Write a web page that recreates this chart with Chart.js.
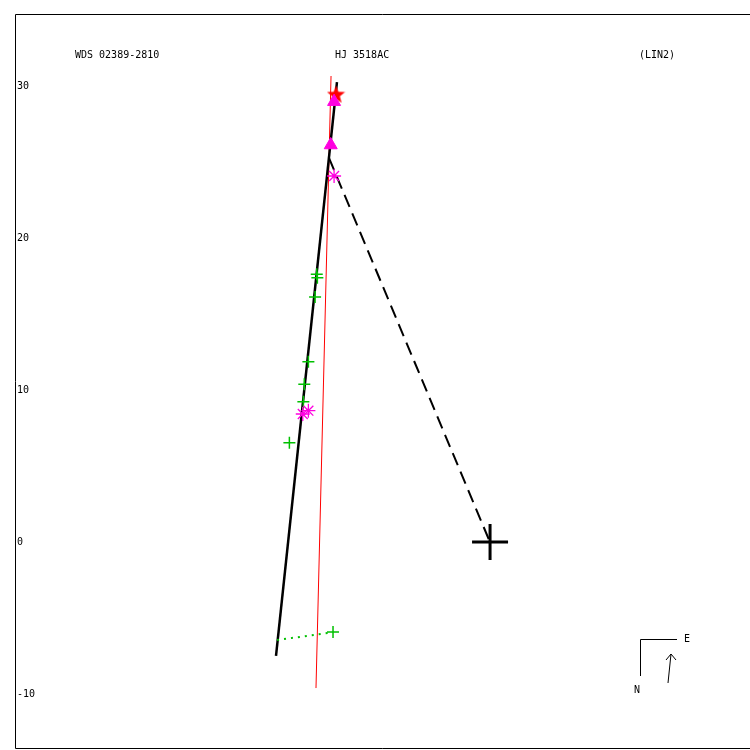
<!DOCTYPE html>
<html>
<head>
<meta charset="utf-8">
<style>
  html, body { margin: 0; padding: 0; background: #fff; }
  canvas { display: block; }
</style>
<script src="https://cdn.jsdelivr.net/npm/chart.js@4/dist/chart.umd.min.js"></script>
</head>
<body>
<canvas id="orbit" width="750" height="750"></canvas>
<script>
// header texts
const titleLeft = 'WDS 02389-2810';
const titleMid = 'HJ 3518AC';
const titleRight = '(LIN2)';

// y tick labels (arcsec)
const yTicks = [-10, 0, 10, 20, 30];

// linear fit path (red) and motion line (black)
const fitX = [-10.46, -11.45];
const fitY = [30.66, -9.61];
const motionX = [-10.07, -14.08];
const motionY = [30.26, -7.50];

// dashed line primary -> last point
const sepX = [-10.59, -0.05];
const sepY = [25.26, 0.1];

// residual (green dotted)
const resX = [-14.01, -10.66];
const resY = [-6.45, -5.99];

// observations
const greenX = [-11.40, -11.36, -11.51, -11.95, -12.22, -12.28, -13.20, -10.33];
const greenY = [17.61, 17.39, 16.12, 11.86, 10.38, 9.23, 6.53, -5.92];
const asterX = [-12.32, -11.95, -10.26];
const asterY = [8.42, 8.64, 24.08];
const triX = [-10.26, -10.48];
const triY = [28.97, 26.12];
const starX = [-10.13];
const starY = [29.41];
const primaryX = [0];
const primaryY = [0];

const pts = (xs, ys) => xs.map((x, i) => ({ x: x, y: ys[i] }));

const GREEN = '#00c000';
const MAGENTA = '#ff00e0';

// filled 5 point star for the red marker
function makeStar(size, color) {
    const c = document.createElement('canvas');
    c.width = size; c.height = size;
    const g = c.getContext('2d');
    const cx = size / 2, cy = size / 2, ro = size / 2, ri = ro * 0.42;
    g.beginPath();
    for (let i = 0; i < 10; i++) {
        const r = i % 2 ? ri : ro;
        const a = -Math.PI / 2 + i * Math.PI / 5;
        g.lineTo(cx + r * Math.cos(a), cy + r * Math.sin(a));
    }
    g.closePath();
    g.fillStyle = color;
    g.fill();
    return c;
}

const framePlugin = {
    id: 'frame',
    afterDraw(chart) {
        const ctx = chart.ctx;
        const a = chart.chartArea;
        ctx.save();
        ctx.strokeStyle = '#000';
        ctx.lineWidth = 1;
        ctx.beginPath();
        ctx.moveTo(750, a.top + 0.5);
        ctx.lineTo(a.left + 0.5, a.top + 0.5);
        ctx.lineTo(a.left + 0.5, a.bottom - 0.5);
        ctx.lineTo(750, a.bottom - 0.5);
        ctx.stroke();

        ctx.fillStyle = '#000';
        ctx.font = '10px "DejaVu Sans Mono"';
        ctx.textBaseline = 'alphabetic';
        ctx.textAlign = 'left';
        ctx.fillText(titleLeft, 75, 58);
        ctx.fillText(titleMid, 335, 58);
        ctx.fillText(titleRight, 639, 58);

        // compass
        ctx.beginPath();
        ctx.moveTo(640.5, 676);
        ctx.lineTo(640.5, 639.5);
        ctx.lineTo(677, 639.5);
        ctx.moveTo(668, 683);
        ctx.lineTo(671, 654);
        ctx.moveTo(666, 660);
        ctx.lineTo(671, 654);
        ctx.lineTo(676, 660);
        ctx.stroke();
        ctx.textBaseline = 'middle';
        ctx.fillText('E', 684, 639);
        ctx.textAlign = 'center';
        ctx.fillText('N', 637, 690);
        ctx.restore();
    }
};

new Chart(document.getElementById('orbit'), {
    type: 'scatter',
    data: {
        datasets: [
            {
                data: pts(triX, triY), pointStyle: 'triangle', pointRadius: 7.5,
                backgroundColor: MAGENTA, borderColor: MAGENTA, borderWidth: 1
            },
            {
                data: pts(starX, starY), pointStyle: makeStar(19, '#ff0000'), pointRadius: 9
            },
            {
                data: pts(asterX, asterY), pointStyle: 'star', pointRadius: 7,
                borderColor: MAGENTA, borderWidth: 1.3
            },
            {
                data: pts(greenX, greenY), pointStyle: 'cross', pointRadius: 6,
                borderColor: GREEN, borderWidth: 1.5
            },
            {
                data: pts(primaryX, primaryY), pointStyle: 'cross', pointRadius: 18,
                borderColor: '#000', borderWidth: 3
            },
            {
                data: pts(resX, resY), showLine: true, pointRadius: 0,
                borderColor: GREEN, borderWidth: 2, borderDash: [2, 5]
            },
            {
                data: pts(sepX, sepY), showLine: true, pointRadius: 0,
                borderColor: '#000', borderWidth: 2, borderDash: [13, 7]
            },
            {
                data: pts(motionX, motionY), showLine: true, pointRadius: 0,
                borderColor: '#000', borderWidth: 2.5
            },
            {
                data: pts(fitX, fitY), showLine: true, pointRadius: 0,
                borderColor: '#ff0000', borderWidth: 1
            }
        ]
    },
    options: {
        responsive: false,
        animation: false,
        layout: { autoPadding: false, padding: { left: 15, top: 14, right: 0, bottom: 1 } },
        plugins: { legend: { display: false }, tooltip: { enabled: false } },
        scales: {
            x: { type: 'linear', display: false, min: -31.25, max: 17.1 },
            y: {
                type: 'linear', min: -13.62, max: 34.74,
                afterBuildTicks: s => { s.ticks = yTicks.map(v => ({ value: v })); },
                afterFit: s => { s.width = 0; s.paddingTop = 0; s.paddingBottom = 0; },
                grid: { display: false, drawTicks: false },
                border: { display: false },
                ticks: {
                    mirror: true, padding: 2, color: '#000',
                    font: { family: 'DejaVu Sans Mono', size: 10 }
                }
            }
        }
    },
    plugins: [framePlugin]
});
</script>
</body>
</html>
